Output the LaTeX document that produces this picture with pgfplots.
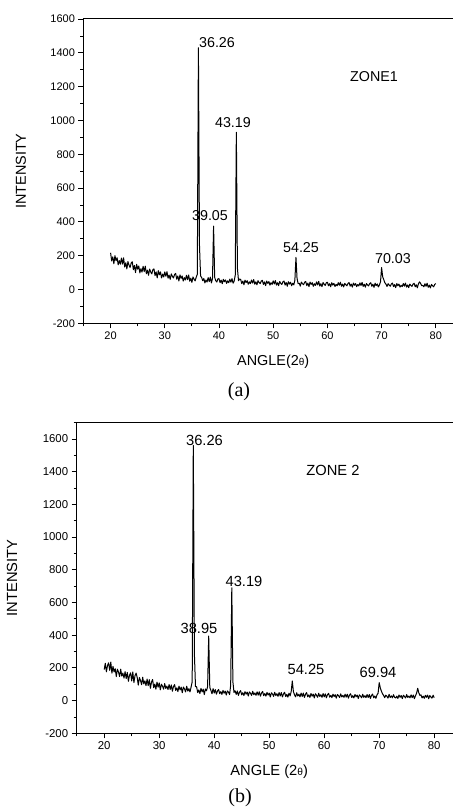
\documentclass[border=0pt]{standalone}
\usepackage{fontspec}
\setmainfont{Liberation Sans}
\newfontfamily\serif{Liberation Serif}
\usepackage{pgfplots}
\pgfplotsset{compat=1.18}

\pgfplotsset{xrd/.style={
  scale only axis, xmin=15, xmax=85, ymin=-200,
  xtick={20,30,...,80}, minor xtick={15,25,...,85},
  ytick={-200,0,...,1600}, minor ytick={-100,100,...,1700},
  tick pos=left, tick align=outside,
  major tick length=5pt, minor tick length=3pt,
  every tick/.style={black, line width=0.8pt},
  axis line style={line width=1pt},
  /pgf/number format/assume math mode=true,
  /pgf/number format/1000 sep={},
  ylabel={INTENSITY},
}}

\begin{document}
\begin{tikzpicture}[x=1pt,y=1pt]
\path[use as bounding box] (0,0) rectangle (453,807);
\clip (0,0) rectangle (453,807);

% (a) zone 1
\begin{axis}[xrd, at={(83.5pt,483.7pt)}, anchor=south west,
  width=379.4pt, height=304.3pt, ymax=1600,
  tick label style={font=\fontsize{11}{11}\selectfont},
  label style={font=\fontsize{14.4}{14.4}\selectfont},
  xlabel={ANGLE(2{\fontsize{10}{10}\selectfont θ})},
  xlabel style={at={(axis description cs:0.5,-0.127)}, anchor=center},
  ylabel style={at={(axis description cs:-0.1647,0.5)}, anchor=center}]
\addplot[black, line width=1pt, line join=round] coordinates {
(20.0,217)(20.2,169)(20.4,193)(20.6,152)(20.8,200)(21.0,170)(21.2,188)(21.4,146)(21.6,171)(21.8,150)
(22.0,186)(22.2,150)(22.4,187)(22.6,133)(22.8,158)(23.0,122)(23.2,165)(23.4,144)(23.6,130)(23.8,157)
(24.0,164)(24.2,117)(24.4,142)(24.6,100)(24.8,149)(25.0,120)(25.2,139)(25.4,98)(25.6,123)(25.8,103)
(26.0,137)(26.2,106)(26.4,138)(26.6,93)(26.8,114)(27.0,84)(27.2,121)(27.4,104)(27.6,92)(27.8,117)
(28.0,122)(28.2,82)(28.4,104)(28.6,69)(28.8,111)(29.0,87)(29.2,104)(29.4,68)(29.6,91)(29.8,74)
(30.0,104)(30.2,78)(30.4,105)(30.6,67)(30.8,85)(31.0,60)(31.2,92)(31.4,78)(31.6,68)(31.8,89)
(32.0,95)(32.2,61)(32.4,80)(32.6,50)(32.8,86)(33.0,66)(33.2,80)(33.4,50)(33.6,70)(33.8,56)
(34.0,84)(34.2,58)(34.4,86)(34.6,49)(34.8,67)(35.0,42)(35.2,74)(35.4,61)(35.6,51)(35.8,73)
(36.0,90)(36.2,1430)(36.4,260)(36.6,80)(36.8,71)(37.0,52)(37.2,65)(37.4,39)(37.6,56)(37.8,44)
(38.0,70)(38.2,47)(38.4,73)(38.6,39)(38.8,65)(39.0,375)(39.2,72)(39.4,52)(39.6,44)(39.8,63)
(40.0,64)(40.2,40)(40.4,55)(40.6,34)(40.8,60)(41.0,46)(41.2,57)(41.4,36)(41.6,51)(41.8,40)
(42.0,61)(42.2,43)(42.4,64)(42.6,37)(42.8,50)(43.0,85)(43.2,930)(43.4,125)(43.6,52)(43.8,62)
(44.0,59)(44.2,35)(44.4,50)(44.6,28)(44.8,55)(45.0,41)(45.2,52)(45.4,31)(45.6,45)(45.8,35)
(46.0,56)(46.2,38)(46.4,59)(46.6,31)(46.8,45)(47.0,28)(47.2,52)(47.4,41)(47.6,35)(47.8,50)
(48.0,54)(48.2,30)(48.4,45)(48.6,23)(48.8,50)(49.0,36)(49.2,47)(49.4,26)(49.6,40)(49.8,30)
(50.0,51)(50.2,33)(50.4,53)(50.6,26)(50.8,40)(51.0,23)(51.2,47)(51.4,36)(51.6,30)(51.8,46)
(52.0,50)(52.2,26)(52.4,41)(52.6,19)(52.8,46)(53.0,32)(53.2,43)(53.4,22)(53.6,37)(53.8,27)
(54.0,55)(54.2,190)(54.4,65)(54.6,35)(54.8,37)(55.0,20)(55.2,44)(55.4,34)(55.6,28)(55.8,43)
(56.0,47)(56.2,23)(56.4,38)(56.6,17)(56.8,44)(57.0,30)(57.2,40)(57.4,19)(57.6,34)(57.8,24)
(58.0,45)(58.2,27)(58.4,48)(58.6,20)(58.8,34)(59.0,17)(59.2,41)(59.4,31)(59.6,24)(59.8,40)
(60.0,43)(60.2,22)(60.4,34)(60.6,16)(60.8,40)(61.0,26)(61.2,36)(61.4,18)(61.6,30)(61.8,22)
(62.0,40)(62.2,25)(62.4,43)(62.6,19)(62.8,32)(63.0,15)(63.2,36)(63.4,28)(63.6,22)(63.8,36)
(64.0,41)(64.2,20)(64.4,32)(64.6,14)(64.8,38)(65.0,25)(65.2,35)(65.4,17)(65.6,29)(65.8,21)
(66.0,39)(66.2,24)(66.4,42)(66.6,18)(66.8,31)(67.0,14)(67.2,35)(67.4,27)(67.6,21)(67.8,35)
(68.0,40)(68.2,19)(68.4,31)(68.6,13)(68.8,37)(69.0,23)(69.2,33)(69.4,15)(69.6,27)(69.8,45)
(70.0,130)(70.2,75)(70.4,58)(70.6,40)(70.8,32)(71.0,18)(71.2,34)(71.4,26)(71.6,19)(71.8,33)
(72.0,38)(72.2,17)(72.4,29)(72.6,11)(72.8,35)(73.0,22)(73.2,32)(73.4,14)(73.6,25)(73.8,17)
(74.0,35)(74.2,20)(74.4,38)(74.6,14)(74.8,27)(75.0,11)(75.2,32)(75.4,24)(75.6,18)(75.8,32)
(76.0,37)(76.2,16)(76.4,28)(76.6,10)(76.8,34)(77.0,45)(77.2,36)(77.4,22)(77.6,24)(77.8,16)
(78.0,34)(78.2,19)(78.4,37)(78.6,13)(78.8,26)(79.0,9)(79.2,30)(79.4,22)(79.6,16)(79.8,30)
(80.0,35)};
\begin{scope}[font=\fontsize{14.3}{14.3}\selectfont]
\node at (axis cs:39.63,1463) {36.26};
\node at (axis cs:42.58,990) {43.19};
\node at (axis cs:38.34,440) {39.05};
\node at (axis cs:55.13,245) {54.25};
\node at (axis cs:72.10,180) {70.03};
\node at (axis cs:68.60,1262) {ZONE1};
\end{scope}
\end{axis}
\node[font=\serif\fontsize{20}{20}\selectfont] at (239,415) {(a)};

% (b) zone 2
\begin{axis}[xrd, at={(76.7pt,73.7pt)}, anchor=south west,
  width=385pt, height=310.7pt, ymax=1700,
  tick label style={font=\fontsize{11.4}{11.4}\selectfont},
  label style={font=\fontsize{14.7}{14.7}\selectfont},
  xlabel={ANGLE (2{\fontsize{10.2}{10.2}\selectfont θ})},
  xlabel style={at={(axis description cs:0.5,-0.1246)}, anchor=center},
  ylabel style={at={(axis description cs:-0.168,0.5)}, anchor=center}]
\addplot[black, line width=1pt, line join=round] coordinates {
(20.0,190)(20.2,228)(20.4,176)(20.6,214)(20.8,231)(21.0,185)(21.2,236)(21.4,168)(21.6,209)(21.8,175)
(22.0,195)(22.2,147)(22.4,192)(22.6,174)(22.8,147)(23.0,192)(23.2,150)(23.4,168)(23.6,138)(23.8,177)
(24.0,135)(24.2,172)(24.4,118)(24.6,155)(24.8,170)(25.0,120)(25.2,175)(25.4,110)(25.6,152)(25.8,168)
(26.0,142)(26.2,95)(26.4,141)(26.6,123)(26.8,97)(27.0,143)(27.2,102)(27.4,121)(27.6,92)(27.8,132)
(28.0,91)(28.2,128)(28.4,75)(28.6,113)(28.8,129)(29.0,79)(29.2,101)(29.4,70)(29.6,113)(29.8,82)
(30.0,108)(30.2,66)(30.4,100)(30.6,88)(30.8,70)(31.0,104)(31.2,74)(31.4,89)(31.6,68)(31.8,98)
(32.0,68)(32.2,96)(32.4,57)(32.6,86)(32.8,98)(33.0,62)(33.2,78)(33.4,55)(33.6,88)(33.8,65)
(34.0,82)(34.2,48)(34.4,83)(34.6,71)(34.8,53)(35.0,88)(35.2,58)(35.4,73)(35.6,53)(35.8,83)
(36.0,115)(36.2,1560)(36.4,285)(36.6,85)(36.8,85)(37.0,49)(37.2,65)(37.4,43)(37.6,75)(37.8,53)
(38.0,70)(38.2,37)(38.4,71)(38.6,60)(38.8,85)(39.0,395)(39.2,80)(39.4,63)(39.6,42)(39.8,73)
(40.0,46)(40.2,67)(40.4,39)(40.6,59)(40.8,68)(41.0,42)(41.2,55)(41.4,38)(41.6,62)(41.8,45)
(42.0,58)(42.2,34)(42.4,59)(42.6,51)(42.8,37)(43.0,95)(43.2,690)(43.4,115)(43.6,50)(43.8,60)
(44.0,38)(44.2,59)(44.4,32)(44.6,51)(44.8,61)(45.0,35)(45.2,48)(45.4,31)(45.6,55)(45.8,39)
(46.0,52)(46.2,28)(46.4,53)(46.6,45)(46.8,32)(47.0,57)(47.2,36)(47.4,47)(47.6,32)(47.8,54)
(48.0,33)(48.2,54)(48.4,27)(48.6,46)(48.8,56)(49.0,30)(49.2,43)(49.4,27)(49.6,50)(49.8,34)
(50.0,46)(50.2,22)(50.4,48)(50.6,40)(50.8,26)(51.0,51)(51.2,31)(51.4,42)(51.6,26)(51.8,49)
(52.0,28)(52.2,49)(52.4,22)(52.6,41)(52.8,51)(53.0,25)(53.2,38)(53.4,21)(53.6,45)(53.8,29)
(54.0,55)(54.2,120)(54.4,55)(54.6,36)(54.8,23)(55.0,48)(55.2,28)(55.4,39)(55.6,23)(55.8,46)
(56.0,25)(56.2,46)(56.4,19)(56.6,39)(56.8,49)(57.0,23)(57.2,35)(57.4,19)(57.6,43)(57.8,27)
(58.0,40)(58.2,16)(58.4,42)(58.6,33)(58.8,20)(59.0,45)(59.2,25)(59.4,36)(59.6,20)(59.8,43)
(60.0,23)(60.2,41)(60.4,17)(60.6,36)(60.8,44)(61.0,21)(61.2,32)(61.4,18)(61.6,39)(61.8,25)
(62.0,36)(62.2,15)(62.4,37)(62.6,30)(62.8,19)(63.0,41)(63.2,22)(63.4,32)(63.6,20)(63.8,39)
(64.0,21)(64.2,39)(64.4,15)(64.6,34)(64.8,42)(65.0,19)(65.2,30)(65.4,16)(65.6,37)(65.8,23)
(66.0,34)(66.2,13)(66.4,35)(66.6,28)(66.8,17)(67.0,39)(67.2,20)(67.4,30)(67.6,18)(67.8,37)
(68.0,19)(68.2,37)(68.4,13)(68.6,32)(68.8,40)(69.0,17)(69.2,28)(69.4,14)(69.6,35)(69.8,45)
(70.0,110)(70.2,78)(70.4,58)(70.6,42)(70.8,32)(71.0,18)(71.2,33)(71.4,26)(71.6,15)(71.8,38)
(72.0,19)(72.2,29)(72.4,17)(72.6,36)(72.8,20)(73.0,16)(73.2,27)(73.4,13)(73.6,34)(73.8,20)
(74.0,31)(74.2,12)(74.4,33)(74.6,25)(74.8,16)(75.0,37)(75.2,19)(75.4,28)(75.6,17)(75.8,35)
(76.0,18)(76.2,34)(76.4,12)(76.6,30)(76.8,45)(77.0,75)(77.2,48)(77.4,32)(77.6,35)(77.8,16)
(78.0,27)(78.2,14)(78.4,32)(78.6,20)(78.8,34)(79.0,11)(79.2,31)(79.4,22)(79.6,15)(79.8,33)
(80.0,18)};
\begin{scope}[font=\fontsize{14.7}{14.7}\selectfont]
\node at (axis cs:38.24,1588) {36.26};
\node at (axis cs:45.42,731) {43.19};
\node at (axis cs:37.24,444) {38.95};
\node at (axis cs:56.69,193) {54.25};
\node at (axis cs:69.78,175) {69.94};
\node at (axis cs:61.60,1410) {ZONE 2};
\end{scope}
\end{axis}
\node[font=\serif\fontsize{20}{20}\selectfont] at (240,9.5) {(b)};
\end{tikzpicture}
\end{document}
